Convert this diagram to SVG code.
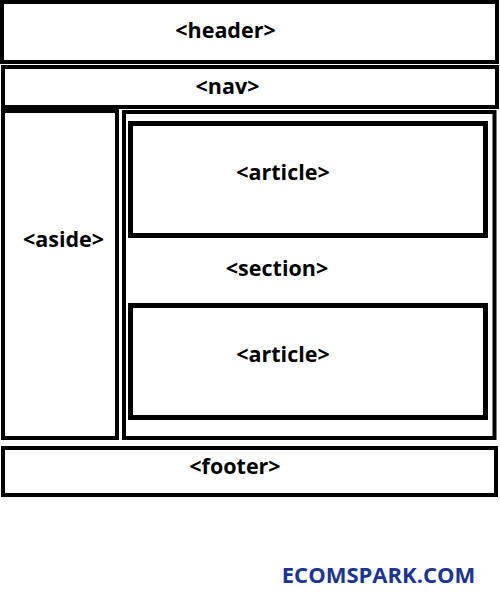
<svg xmlns="http://www.w3.org/2000/svg" width="500" height="600" viewBox="0 0 500 600">
<style>
.box{fill:#fff;stroke:#000;stroke-width:4}
.inner{fill:#fff;stroke:#000;stroke-width:5}
.lbl{font-family:"Open Sans","Noto Sans","Liberation Sans",sans-serif;font-weight:700;font-size:21.5px;fill:#000;text-anchor:middle}
.brand{font-family:"Open Sans","Noto Sans","Liberation Sans",sans-serif;font-weight:700;font-size:22px;fill:#1a3596;text-anchor:middle}
</style>
<rect width="500" height="600" fill="#fff"/>
<g id="header"><rect class="box" x="2" y="2" width="495" height="60"/><text class="lbl" x="225.5" y="37.5">&lt;header&gt;</text></g>
<g id="nav"><rect class="box" x="3" y="67" width="494" height="40"/><text class="lbl" x="227.5" y="93.5">&lt;nav&gt;</text></g>
<g id="aside"><rect class="box" x="3" y="111" width="114" height="327"/><text class="lbl" x="63.5" y="246.5">&lt;aside&gt;</text></g>
<g id="section"><rect class="box" x="124" y="112" width="370.5" height="326"/><text class="lbl" x="277" y="275.5">&lt;section&gt;</text></g>
<g id="article1"><rect class="inner" x="130.5" y="123.5" width="355" height="112"/><text class="lbl" x="283" y="179.5">&lt;article&gt;</text></g>
<g id="article2"><rect class="inner" x="130.5" y="305.5" width="355" height="112"/><text class="lbl" x="283" y="361.5">&lt;article&gt;</text></g>
<g id="footer"><rect class="box" x="3" y="448" width="493" height="47"/><text class="lbl" x="235" y="473.5">&lt;footer&gt;</text></g>
<g id="connectors"></g>
<text class="brand" x="378.5" y="583">ECOMSPARK.COM</text>
</svg>
